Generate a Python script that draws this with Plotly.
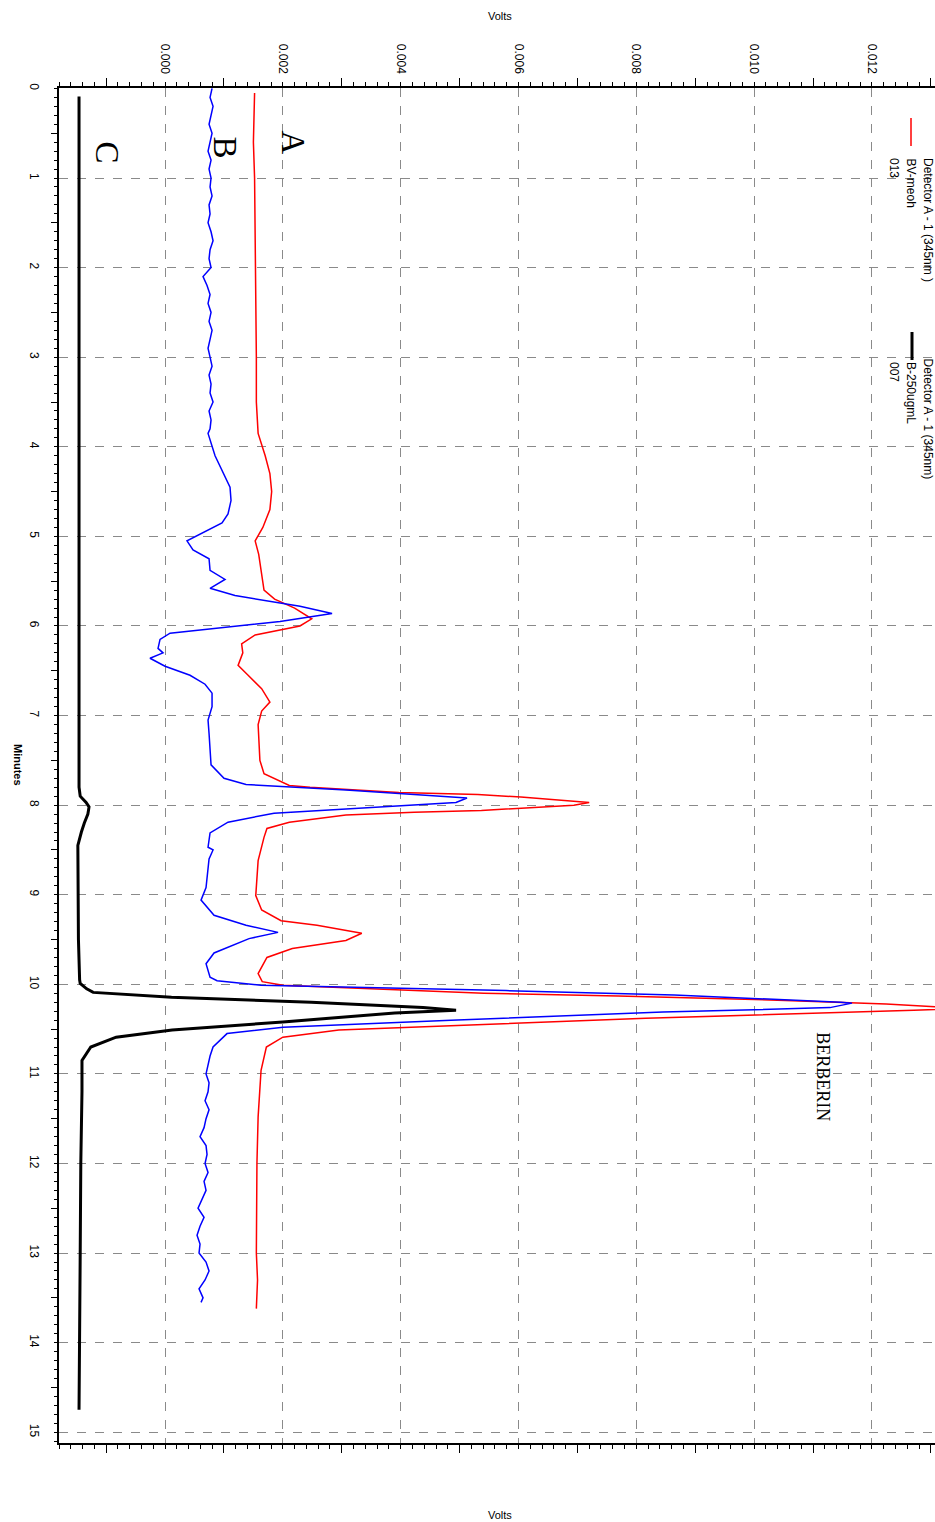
import plotly.graph_objects as go

# ---------------- data (minutes, volts) ----------------
red_min = [0.05, 0.6, 1.0, 1.5, 2.0, 2.5, 3.0, 3.5, 3.85, 4.1, 4.3, 4.5, 4.7, 4.9, 5.05, 5.2, 5.4, 5.6, 5.7,
           5.8, 5.92, 6.0, 6.1, 6.2, 6.3, 6.44, 6.55, 6.7, 6.85, 6.95, 7.1, 7.3, 7.5, 7.65, 7.78, 7.8, 7.86,
           7.88, 7.91, 7.97, 8.0, 8.06, 8.08, 8.11, 8.19, 8.26, 8.36, 8.62, 9.01, 9.17, 9.29, 9.34, 9.43,
           9.51, 9.6, 9.7, 9.88, 9.97, 10.01, 10.1, 10.13, 10.18, 10.22, 10.27, 10.29, 10.38, 10.46, 10.51,
           10.59, 10.7, 10.96, 11.48, 12.0, 12.5, 13.0, 13.3, 13.62]
red_volts = [0.00152, 0.00150, 0.00152, 0.00153, 0.00154, 0.00154, 0.00155, 0.00155, 0.00158, 0.00170,
             0.00178, 0.00181, 0.00178, 0.00166, 0.00153, 0.00159, 0.00164, 0.00168, 0.00186,
             0.00220, 0.00249, 0.00229, 0.00153, 0.00130, 0.00132, 0.00124, 0.00141, 0.00164, 0.00178,
             0.00164, 0.00158, 0.00159, 0.00161, 0.00168, 0.00211, 0.00246, 0.00397,
             0.00531, 0.00604, 0.00720, 0.00694, 0.00537, 0.00423, 0.00307, 0.00211, 0.00173, 0.00168,
             0.00158, 0.00154, 0.00164, 0.00197, 0.00258, 0.00334,
             0.00307, 0.00216, 0.00173, 0.00158, 0.00165, 0.00200, 0.00541, 0.00769, 0.01053, 0.01224,
             0.01360, 0.01271, 0.00816, 0.00485, 0.00295, 0.00200, 0.00172, 0.00163, 0.00158, 0.00156,
             0.00156, 0.00155, 0.00157, 0.00155]

blue_min = [0.0, 0.1, 0.2, 0.3, 0.4, 0.5, 0.6, 0.7, 0.8, 0.9,
            1.0, 1.1, 1.2, 1.3, 1.4, 1.5, 1.6, 1.7, 1.8, 1.9,
            2.0, 2.1, 2.2, 2.3, 2.4, 2.5, 2.6, 2.7, 2.8, 2.9,
            3.0, 3.1, 3.2, 3.3, 3.4, 3.5, 3.6, 3.7, 3.8,
            3.85, 4.1, 4.3, 4.45, 4.6, 4.75, 4.85, 4.95, 5.05, 5.15, 5.25, 5.38, 5.48, 5.58, 5.66,
            5.78, 5.86, 5.95, 6.02, 6.08, 6.15, 6.25, 6.3, 6.36, 6.45, 6.55, 6.65, 6.75, 6.9, 7.05, 7.2,
            7.4, 7.55, 7.7, 7.77, 7.83, 7.92, 7.97, 8.02, 8.09, 8.19, 8.31, 8.47, 8.5, 8.6, 8.92, 9.06,
            9.23, 9.34, 9.42, 9.49, 9.65, 9.77, 9.92, 9.96, 10.01, 10.07, 10.12, 10.2, 10.21, 10.26,
            10.31, 10.4, 10.48, 10.55, 10.7,
            10.8, 10.9, 11.0, 11.1, 11.2, 11.3, 11.4, 11.5, 11.6, 11.7, 11.8, 11.9, 12.0, 12.1, 12.2,
            12.3, 12.4, 12.5, 12.6, 12.7, 12.8, 12.9, 13.0, 13.1, 13.2, 13.3, 13.4, 13.5, 13.55]
blue_px = [212, 210, 213, 211, 209, 212, 210, 208, 211, 209,
           211, 210, 212, 209, 210, 208, 211, 213, 210, 209,
           211, 203, 207, 210, 208, 211, 209, 212, 210, 208,
           210, 212, 209, 211, 210, 213, 209, 211, 210,
           208, 215, 224, 230, 231, 228, 222, 205, 187, 193, 209, 210, 225, 210, 235,
           300, 332, 280, 223, 170, 160, 158, 163, 150, 165, 190, 205, 212, 212, 208, 209,
           210, 211, 224, 246, 346, 467, 456, 381, 274, 228, 210, 208, 213, 209, 206, 201,
           214, 246, 278, 249, 214, 206, 210, 217, 261, 506, 674, 841, 852, 830,
           663, 451, 283, 227, 213,
           210, 208, 206, 209, 208, 205, 209, 206, 204, 200, 206, 207, 205, 208, 204,
           206, 202, 198, 204, 200, 197, 200, 199, 206, 209, 205, 199, 203, 201]
blue_volts = [round((p - 165) * 0.002 / 117.83, 6) for p in blue_px]

black_min = [0.09, 2.0, 4.0, 6.0, 7.8, 7.9, 7.97, 8.02, 8.1, 8.2, 8.3, 8.45, 9.0, 9.5, 9.95, 9.99, 10.05,
             10.09, 10.145, 10.2, 10.26, 10.29, 10.32, 10.42, 10.51, 10.59, 10.7, 10.85, 11.2, 12.0,
             13.0, 14.0, 14.75]
black_volts = [-0.00146, -0.00146, -0.00146, -0.00146, -0.00146, -0.00144, -0.00134, -0.00129,
               -0.00131, -0.00137, -0.00142, -0.00148, -0.00148, -0.00147, -0.00145, -0.00144, -0.00133,
               -0.00122, 0.00011, 0.00248, 0.00438, 0.00494, 0.00390, 0.00200, 0.00012, -0.00083,
               -0.00126, -0.00141, -0.00141, -0.00143, -0.00144, -0.00145, -0.00146]

volt_ticks = [0.000, 0.002, 0.004, 0.006, 0.008, 0.010, 0.012]
volt_labels = ["0.000", "0.002", "0.004", "0.006", "0.008", "0.010", "0.012"]
minute_ticks = list(range(0, 16))
minute_labels = [str(m) for m in minute_ticks]

# ---------------- figure ----------------
W, H = 935, 1522
L, T, B, R = 59, 88, 79, 0
PW, PH = W - L - R, H - T - B


def px_x(p):
    return (p - L) / PW


def px_y(p):
    return (H - B - p) / PH


def vx(p):  # pixel x -> volts
    return (p - 165) * 0.002 / 117.83


def my(p):  # pixel y -> minutes
    return (p - 88) / 89.6


fig = go.Figure()
fig.add_trace(go.Scatter(x=red_volts, y=red_min, mode="lines", line=dict(color="#ff0000", width=1.5),
                         showlegend=False))
fig.add_trace(go.Scatter(x=blue_volts, y=blue_min, mode="lines", line=dict(color="#0000ff", width=1.5),
                         showlegend=False))
fig.add_trace(go.Scatter(x=black_volts, y=black_min, mode="lines", line=dict(color="#000000", width=3),
                         showlegend=False))
fig.add_trace(go.Scatter(x=[], y=[], xaxis="x2", yaxis="y2", showlegend=False))

xr = [-0.0018, 0.01307]
yr = [15.12, -0.005]
grid = dict(showgrid=True, gridcolor="#8a8a8a", griddash="dash", gridwidth=1)
tickfont = dict(family="Liberation Sans, Arial", size=12, color="black")

fig.update_layout(
    width=W, height=H, margin=dict(l=L, r=R, t=T, b=B),
    paper_bgcolor="white", plot_bgcolor="white", showlegend=False,
    xaxis=dict(range=xr, side="top", tickvals=volt_ticks, ticktext=volt_labels, tickangle=90,
               ticks="outside", ticklen=4, tickcolor="black", tickfont=tickfont, ticklabelstandoff=4,
               showline=True, linecolor="black", linewidth=2, mirror="allticks", zeroline=False,
               minor=dict(dtick=0.0002, tick0=0, ticks="outside", ticklen=4, tickcolor="black",
                          showgrid=False),
               **grid),
    yaxis=dict(range=yr, tickvals=minute_ticks, ticktext=minute_labels, tickangle=90,
               ticks="outside", ticklen=3, tickcolor="black", tickfont=tickfont, ticklabelstandoff=10,
               showline=True, linecolor="black", linewidth=2, mirror=False, zeroline=False,
               minor=dict(dtick=0.1, tick0=0, ticks="outside", ticklen=3, tickcolor="black",
                          showgrid=False),
               **grid),
    xaxis2=dict(range=xr, overlaying="x", side="top", tick0=0.001, dtick=0.002, ticks="outside",
                ticklen=8, tickcolor="black", showticklabels=False, showgrid=False, zeroline=False,
                showline=True, linecolor="black", linewidth=2, mirror="allticks"),
    yaxis2=dict(range=yr, overlaying="y", side="left", tick0=0.5, dtick=1, ticks="outside",
                ticklen=6, tickcolor="black", showticklabels=False, showgrid=False, zeroline=False,
                showline=True, linecolor="black", linewidth=2),
)

ann = []
sans = dict(family="Liberation Sans, Arial", size=11, color="black")
leg = dict(family="Liberation Sans, Arial", size=12, color="black")
# axis titles
for yy in (16, 1515):
    ann.append(dict(text="Volts", x=px_x(500), y=px_y(yy), xref="paper", yref="paper", showarrow=False,
                    xanchor="center", yanchor="middle", font=sans))
ann.append(dict(text="<b>Minutes</b>", x=px_x(18), y=px_y(765), xref="paper", yref="paper",
                showarrow=False, textangle=90, xanchor="center", yanchor="middle", font=sans))
# trace labels
serif = "Liberation Serif, Times New Roman, serif"
for txt, xp, yp in [("A", 293, 142), ("B", 225, 147), ("C", 107, 152)]:
    ann.append(dict(text=txt, x=vx(xp), y=my(yp), xref="x", yref="y", showarrow=False, textangle=90,
                    xanchor="center", yanchor="middle", font=dict(family=serif, size=33, color="black")))
ann.append(dict(text="BERBERIN", x=vx(823), y=my(1077), xref="x", yref="y", showarrow=False,
                textangle=90, xanchor="center", yanchor="middle",
                font=dict(family=serif, size=18, color="black")))
# legend texts
for txt, xp, ytop in [("Detector A - 1 (345nm )", 928, 156), ("BV-meoh", 911, 156), ("013", 894, 156),
                      ("Detector A - 1 (345nm)", 928, 356), ("B-250ugmL", 911, 360), ("007", 894, 360)]:
    ann.append(dict(text=txt, x=px_x(xp), y=px_y(ytop), xref="paper", yref="paper", showarrow=False,
                    textangle=90, xanchor="center", yanchor="top", font=leg))
fig.update_layout(annotations=ann)

fig.add_shape(type="line", xref="paper", yref="paper", x0=px_x(911), x1=px_x(911), y0=px_y(118),
              y1=px_y(146), line=dict(color="#ff0000", width=1.5))
fig.add_shape(type="line", xref="paper", yref="paper", x0=px_x(912), x1=px_x(912), y0=px_y(332),
              y1=px_y(360), line=dict(color="black", width=3))

fig.write_html("out.html")
